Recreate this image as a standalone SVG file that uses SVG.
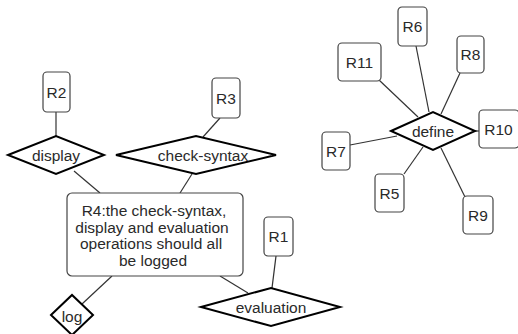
<svg xmlns="http://www.w3.org/2000/svg" width="518" height="334" viewBox="0 0 518 334">
  <style>
    .box { fill: #ffffff; stroke: #444444; stroke-width: 1.2; }
    .rel { fill: #ffffff; stroke: #000000; stroke-width: 2; stroke-linejoin: miter; }
    .lbl { font-family: "Liberation Sans", Arial, sans-serif; font-size: 15.5px; fill: #2a2a2a; text-anchor: middle; dominant-baseline: central; }
    .edge { stroke: #333333; stroke-width: 1.2; fill: none; }
  </style>
  <rect width="518" height="334" fill="#ffffff"/>

  <!-- connectors -->
  <g id="connectors" class="edge">
    <line x1="56" y1="112" x2="56" y2="136"/>
    <line x1="220" y1="118" x2="203" y2="137"/>
    <line x1="74" y1="171" x2="100" y2="193"/>
    <line x1="192" y1="174" x2="180" y2="193"/>
    <line x1="112" y1="276" x2="82" y2="304"/>
    <line x1="220" y1="276" x2="248" y2="293"/>
    <line x1="276" y1="256" x2="272" y2="288"/>
    <line x1="416" y1="46" x2="429" y2="112"/>
    <line x1="379" y1="80" x2="418" y2="117"/>
    <line x1="460" y1="73" x2="441" y2="114"/>
    <line x1="475" y1="131" x2="479" y2="131"/>
    <line x1="350" y1="145" x2="397" y2="136"/>
    <line x1="404" y1="174" x2="423" y2="147"/>
    <line x1="465" y1="197" x2="441" y2="148"/>
  </g>

  <!-- left cluster -->
  <g id="R2"><rect class="box" x="43" y="72" width="27" height="40" rx="4"/><text class="lbl" x="56.5" y="92">R2</text></g>
  <g id="display"><polygon class="rel" points="8,155 56,136 104,155 56,174"/><text class="lbl" x="56" y="155">display</text></g>
  <g id="R3"><rect class="box" x="212" y="78" width="28" height="40" rx="4"/><text class="lbl" x="226" y="98">R3</text></g>
  <g id="check-syntax"><polygon class="rel" points="116,155 196,136 276,155 196,174"/><text class="lbl" x="203" y="155">check-syntax</text></g>
  <g id="R4">
    <rect class="box" x="67" y="193" width="176" height="83" rx="5"/>
    <text class="lbl" x="154" y="210">R4:the check-syntax,</text>
    <text class="lbl" x="152" y="227">display and evaluation</text>
    <text class="lbl" x="151" y="243">operations should all</text>
    <text class="lbl" x="153" y="260">be logged</text>
  </g>
  <g id="R1"><rect class="box" x="264" y="217" width="29" height="39" rx="4"/><text class="lbl" x="278.5" y="236.5">R1</text></g>
  <g id="evaluation"><polygon class="rel" points="201,307 271,288 340,307 271,326"/><text class="lbl" x="271" y="307">evaluation</text></g>
  <g id="log"><polygon class="rel" points="51,315 72,295 93,315 72,335"/><text class="lbl" x="72" y="316">log</text></g>

  <!-- right cluster -->
  <g id="R6"><rect class="box" x="398" y="7" width="29" height="39" rx="4"/><text class="lbl" x="412.5" y="26.5">R6</text></g>
  <g id="R11"><rect class="box" x="338" y="43" width="43" height="38" rx="4"/><text class="lbl" x="359.5" y="62">R11</text></g>
  <g id="R8"><rect class="box" x="457" y="36" width="27" height="37" rx="4"/><text class="lbl" x="470.5" y="54.5">R8</text></g>
  <g id="define"><polygon class="rel" points="391,131 433,112 475,131 433,150"/><text class="lbl" x="433" y="131">define</text></g>
  <g id="R10"><rect class="box" x="479" y="110" width="40" height="38" rx="4"/><text class="lbl" x="498.5" y="129">R10</text></g>
  <g id="R7"><rect class="box" x="322" y="132" width="28" height="38" rx="4"/><text class="lbl" x="336" y="151">R7</text></g>
  <g id="R5"><rect class="box" x="375" y="174" width="29" height="38" rx="4"/><text class="lbl" x="389.5" y="193">R5</text></g>
  <g id="R9"><rect class="box" x="463" y="196" width="30" height="38" rx="4"/><text class="lbl" x="478" y="215">R9</text></g>
</svg>
